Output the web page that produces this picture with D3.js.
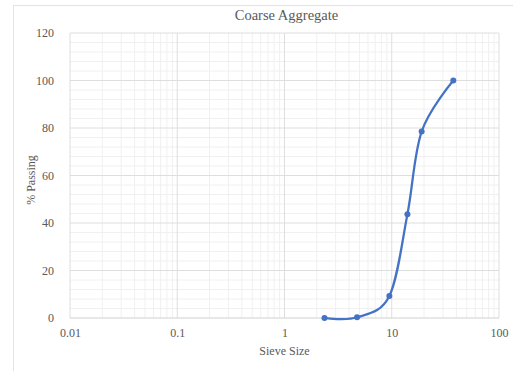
<!DOCTYPE html>
<html>
<head>
<meta charset="utf-8">
<script src="https://cdn.jsdelivr.net/npm/d3@7"></script>
<style>
  body { margin: 0; background: #fff; }
  text { font-family: "Liberation Serif", "DejaVu Serif", serif; fill: #595959; }
</style>
</head>
<body>
<div id="container"></div>
<script>
const width = 513;
const height = 371;

// sieve sizes (mm) and % passing
const sieveSizes = [2.36, 4.75, 9.5, 14, 19, 37.5];
const percentPassing = [0, 0.3, 9.3, 43.7, 78.5, 100];
const xTicks = [0.01, 0.1, 1, 10, 100];
const yTicks = [0, 20, 40, 60, 80, 100, 120];

const margin = { left: 70, right: 14, top: 33, bottom: 53 };

const svg = d3.select('#container').append('svg')
    .attr('width', width)
    .attr('height', height);

// chart border (only top / left are inside the frame)
svg.append('rect')
    .attr('x', 13.5).attr('y', 5.5)
    .attr('width', width + 10).attr('height', height + 10)
    .attr('fill', 'none')
    .attr('stroke', '#e3e3e3');

let x = d3.scaleLog().domain([0.01, 100]).range([margin.left, width - margin.right]);
let y = d3.scaleLinear().domain([0, 120]).range([height - margin.bottom, margin.top]);

// minor grid
let minorX = [];
for (let e = -2; e < 2; e++) {
    for (let k = 2; k <= 9; k++) minorX.push(k * Math.pow(10, e));
}
let minorY = d3.range(0, 121, 4).filter(v => v % 20 != 0);

let grid = svg.append('g');
grid.selectAll('.mx').data(minorX).join('line')
    .attr('x1', d => x(d)).attr('x2', d => x(d))
    .attr('y1', y(0)).attr('y2', y(120))
    .attr('stroke', '#f0f0f0');
grid.selectAll('.my').data(minorY).join('line')
    .attr('x1', x(0.01)).attr('x2', x(100))
    .attr('y1', d => y(d)).attr('y2', d => y(d))
    .attr('stroke', '#f0f0f0');
grid.selectAll('.Mx').data(xTicks).join('line')
    .attr('x1', d => x(d)).attr('x2', d => x(d))
    .attr('y1', y(0)).attr('y2', y(120))
    .attr('stroke', '#dedede');
grid.selectAll('.My').data(yTicks).join('line')
    .attr('x1', x(0.01)).attr('x2', x(100))
    .attr('y1', d => y(d)).attr('y2', d => y(d))
    .attr('stroke', d => d == 0 ? '#d0d0d0' : '#dedede');

// axes (labels only)
let xAxis = svg.append('g')
    .attr('transform', `translate(0,${y(0)})`)
    .call(d3.axisBottom(x).tickValues(xTicks).tickFormat(d => String(d)).tickSize(0).tickPadding(10));
let yAxis = svg.append('g')
    .attr('transform', `translate(${x(0.01)},0)`)
    .call(d3.axisLeft(y).tickValues(yTicks).tickSize(0).tickPadding(16));
[xAxis, yAxis].forEach(a => {
    a.attr('font-family', '"Liberation Serif", serif').attr('font-size', 12);
    a.select('.domain').remove();
    a.selectAll('text')
        .style('font-family', '"Liberation Serif", serif')
        .style('font-size', '12px')
        .attr('fill', '#595959');
});

// titles
svg.append('text')
    .attr('x', (x(0.01) + x(100)) / 2 + 2)
    .attr('y', 20)
    .attr('text-anchor', 'middle')
    .style('font-size', '14.5px')
    .text('Coarse Aggregate');
svg.append('text')
    .attr('x', x(1))
    .attr('y', 355)
    .attr('text-anchor', 'middle')
    .style('font-size', '12px')
    .text('Sieve Size');
svg.append('text')
    .attr('transform', `translate(35,180) rotate(-90)`)
    .attr('text-anchor', 'middle')
    .style('font-size', '12px')
    .text('% Passing');

// series
let points = sieveSizes.map((s, i) => [s, percentPassing[i]]);
let line = d3.line()
    .x(d => x(d[0]))
    .y(d => y(d[1]))
    .curve(d3.curveCardinal.tension(0));

svg.append('path')
    .datum(points)
    .attr('d', line)
    .attr('fill', 'none')
    .attr('stroke', '#4472c4')
    .attr('stroke-width', 2.25);

svg.append('g').selectAll('circle')
    .data(points)
    .join('circle')
    .attr('cx', d => x(d[0]))
    .attr('cy', d => y(d[1]))
    .attr('r', 3)
    .attr('fill', '#4472c4');
</script>
</body>
</html>
